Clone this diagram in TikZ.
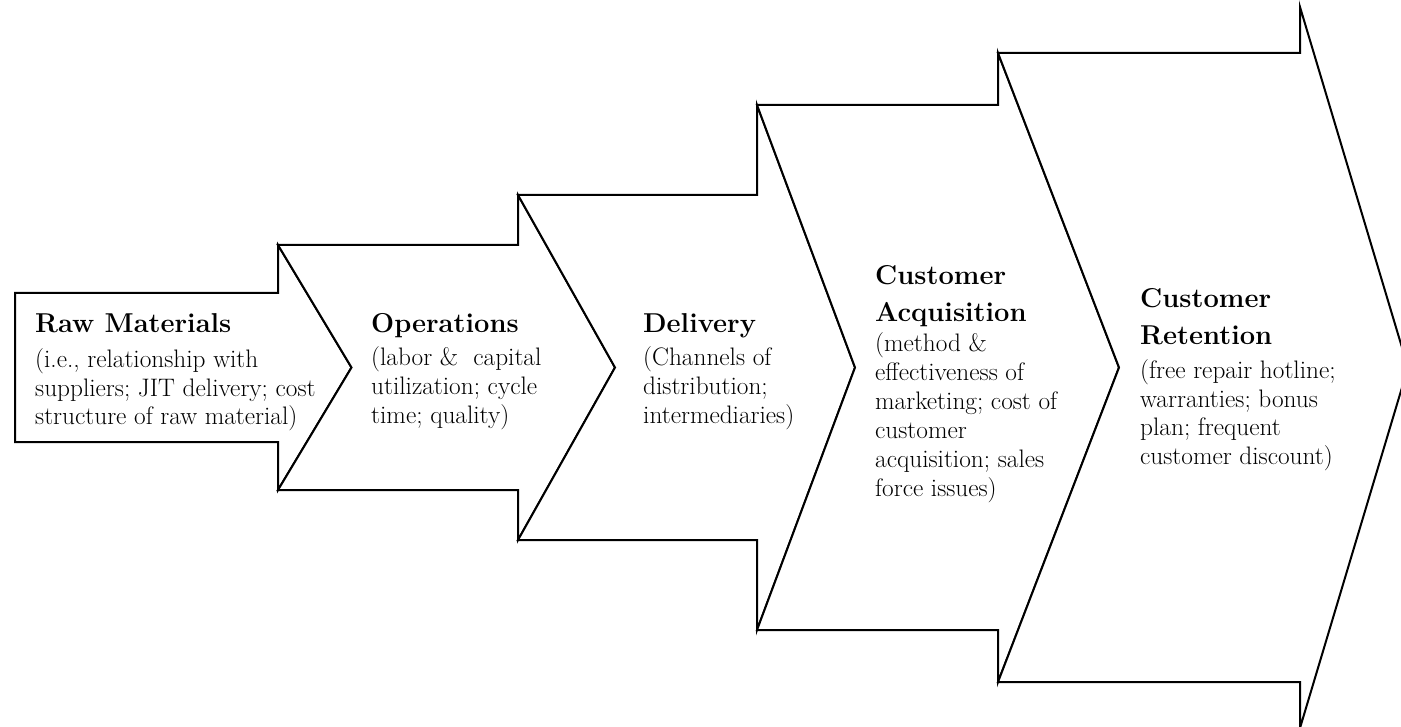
\documentclass[tikz,border=0pt]{standalone}
\begin{document}
\begin{tikzpicture}[x=1pt,y=-1pt,
  chev/.style={draw=black, fill=white, line width=2pt, line join=miter},
  ttl/.style={anchor=base west, inner sep=0pt, font=\fontsize{27.3}{36.5}\selectfont\bfseries},
  bdy/.style={anchor=base west, inner sep=0pt, font=\fontsize{25.3}{29}\selectfont}]
\useasboundingbox (0,0) rectangle (1401,727);
\clip (0,0) rectangle (1401,727);
\fill[white] (0,0) rectangle (1401,727);
% shape 1: Raw Materials
\draw[chev] (15,293) -- (278,293) -- (278,245) -- (351.5,367.5) -- (278,490) -- (278,442) -- (15,442) -- cycle;
% shape 2: Operations
\draw[chev] (278,245) -- (518,245) -- (518,195) -- (615,367.5) -- (518,540) -- (518,490) -- (278,490) -- (351.5,367.5) -- cycle;
% shape 3: Delivery
\draw[chev] (518,195) -- (757,195) -- (757,105) -- (855,367.5) -- (757,630) -- (757,540) -- (518,540) -- (615,367.5) -- cycle;
% shape 4: Customer Acquisition
\draw[chev] (757,105) -- (998,105) -- (998,53) -- (1119,367.5) -- (998,682) -- (998,630) -- (757,630) -- (855,367.5) -- cycle;
% shape 5: Customer Retention
\draw[chev] (998,53) -- (1300,53) -- (1300,7) -- (1408,367.5) -- (1300,728) -- (1300,682) -- (998,682) -- (1119,367.5) -- cycle;

\node[ttl] (t1) at (35,333) {\parbox[t]{330pt}{\raggedright Raw Materials}};
\node[bdy] (b1) at (35,367) {\parbox[t]{330pt}{\raggedright (i.e., relationship with\\ suppliers; JIT delivery; cost\\ structure of raw material)}};

\node[ttl] (t2) at (371,333) {\parbox[t]{330pt}{\raggedright Operations}};
\node[bdy] (b2) at (371,366) {\parbox[t]{330pt}{\raggedright (labor \&\ \ capital\\ utilization; cycle\\ time; quality)}};

\node[ttl] (t3) at (643,333) {\parbox[t]{330pt}{\raggedright Delivery}};
\node[bdy] (b3) at (643,366) {\parbox[t]{330pt}{\raggedright (Channels of\\ distribution;\\ intermediaries)}};

\node[ttl] (t4) at (875,285) {\parbox[t]{330pt}{\raggedright Customer\\ Acquisition}};
\node[bdy] (b4) at (875,352) {\parbox[t]{330pt}{\raggedright (method \&\\ effectiveness of\\ marketing; cost of\\ customer\\ acquisition; sales\\ force issues)}};

\node[ttl] (t5) at (1140,308) {\parbox[t]{330pt}{\raggedright Customer\\ Retention}};
\node[bdy] (b5) at (1140,378) {\parbox[t]{330pt}{\raggedright (free repair hotline;\\ warranties; bonus\\ plan; frequent\\ customer discount)}};
\end{tikzpicture}
\end{document}
